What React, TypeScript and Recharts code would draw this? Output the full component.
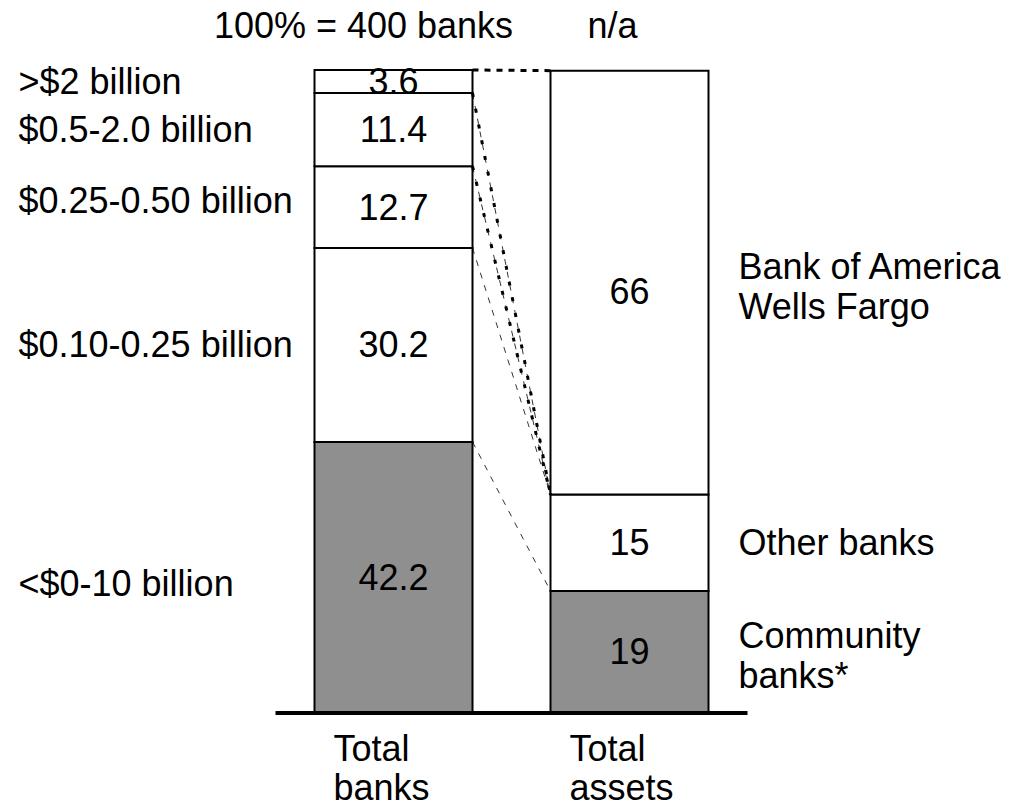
import { BarChart, Bar, XAxis, YAxis, LabelList, ReferenceLine } from 'recharts'

const CATEGORIES = ['Total banks', 'Total assets']
const TOP_LABELS = ['100% = 400 banks', 'n/a']
const SIZE_BANDS = ['<$0-10 billion', '$0.10-0.25 billion', '$0.25-0.50 billion', '$0.5-2.0 billion', '>$2 billion']
const BANK_SHARES = [42.2, 30.2, 12.7, 11.4, 3.6]
const ASSET_GROUPS = [['Community', 'banks*'], ['Other banks'], ['Bank of America', 'Wells Fargo']]
const ASSET_SHARES = [19, 15, 66]

// connectors: [index of bank boundary, index of asset boundary]
const THIN_LINKS = [[3, 1], [2, 1], [1, 1], [0, 0]]
const DOTTED_LINKS = [[4, 2], [3, 1], [2, 1]]

const FONT = 'Liberation Sans, Arial, sans-serif'
const GRAY = '#8f8f8f'
const HALF_BAR = 79
const PITCH = 40

// small nudges so the side labels sit where the original put them
const BAND_NUDGE = [6, 0, -7, 0, 0]
const ASSET_VALUE_NUDGE = [0, 0, 9]
const ASSET_GROUP_NUDGE = [4, 0, 4]

const cumulative = (arr: number[]) => {
  let s = 0
  return arr.map(v => +(s += v).toFixed(2))
}
const bankTops = cumulative(BANK_SHARES)
const assetTops = cumulative(ASSET_SHARES)

const data = [
  Object.fromEntries([['name', CATEGORIES[0]], ...BANK_SHARES.map((v, i) => [`b${i}`, v])]),
  Object.fromEntries([['name', CATEGORIES[1]], ...ASSET_SHARES.map((v, i) => [`a${i}`, v])]),
]

const txt = { fontFamily: FONT, fontSize: 36, fill: '#000' }

const BankLabel = (i: number) => (props: any) => {
  const { x, y, width, height, value } = props
  if (value == null || !height) return null
  const cy = y + height / 2
  return (
    <g>
      <text x={x + width / 2} y={cy} textAnchor="middle" dominantBaseline="central" style={txt}>{value}</text>
      <text x={x - 296} y={cy + BAND_NUDGE[i]} textAnchor="start" dominantBaseline="central" style={txt}>
        {SIZE_BANDS[i]}
      </text>
    </g>
  )
}

const AssetLabel = (i: number) => (props: any) => {
  const { x, y, width, height, value } = props
  if (value == null || !height) return null
  const lines = ASSET_GROUPS[i]
  const cy = y + height / 2
  const start = cy + ASSET_GROUP_NUDGE[i] - ((lines.length - 1) * PITCH) / 2
  return (
    <g>
      <text x={x + width / 2} y={cy + ASSET_VALUE_NUDGE[i]} textAnchor="middle" dominantBaseline="central" style={txt}>
        {value}
      </text>
      {lines.map((l, k) => (
        <text key={k} x={x + width + 30} y={start + k * PITCH} textAnchor="start" dominantBaseline="central" style={txt}>
          {l}
        </text>
      ))}
    </g>
  )
}

const BottomTick = ({ x, y, payload }: any) => {
  const [a, b] = String(payload.value).split(' ')
  return (
    <text x={x - 60} y={y} textAnchor="start" style={txt}>
      <tspan x={x - 60} dy={40}>{a}</tspan>
      <tspan x={x - 60} dy={39}>{b}</tspan>
    </text>
  )
}

const TOP_SHIFT = [-30, -17]
const TopTick = ({ x, y, payload }: any) => (
  <text x={x + TOP_SHIFT[payload.index]} y={y - 24} textAnchor="middle" style={txt}>
    {TOP_LABELS[payload.index]}
  </text>
)

const linkShape = (width: number, dash: string) => (props: any) => {
  const { x1, y1, x2, y2 } = props
  return (
    <line x1={x1 + HALF_BAR} y1={y1} x2={x2 - HALF_BAR} y2={y2}
      stroke="#000" strokeWidth={width} strokeDasharray={dash} />
  )
}

export default function App() {
  return (
    <div style={{ position: 'absolute', left: 0, top: 0, background: '#fff' }}>
      <BarChart
        width={1013}
        height={809}
        data={data}
        margin={{ top: 0, right: 265.5, bottom: 0, left: 275.5 }}
        barCategoryGap={39}
      >
        <XAxis
          dataKey="name"
          height={96}
          axisLine={{ stroke: '#000', strokeWidth: 4 }}
          tickLine={false}
          tick={<BottomTick />}
          interval={0}
        />
        <XAxis
          xAxisId="top"
          orientation="top"
          dataKey="name"
          height={70}
          axisLine={false}
          tickLine={false}
          tick={<TopTick />}
          interval={0}
        />
        <YAxis hide domain={[0, 100]} />
        {THIN_LINKS.map(([b, a], i) => (
          <ReferenceLine
            key={`t${i}`}
            ifOverflow="visible"
            segment={[{ x: CATEGORIES[0], y: bankTops[b] }, { x: CATEGORIES[1], y: assetTops[a] }]}
            shape={linkShape(0.8, '6 7')}
          />
        ))}
        {DOTTED_LINKS.map(([b, a], i) => (
          <ReferenceLine
            key={`d${i}`}
            ifOverflow="visible"
            segment={[{ x: CATEGORIES[0], y: bankTops[b] }, { x: CATEGORIES[1], y: assetTops[a] }]}
            shape={linkShape(3, i === 0 ? '6 6' : '4 12')}
          />
        ))}
        {BANK_SHARES.map((_, i) => (
          <Bar key={`b${i}`} dataKey={`b${i}`} stackId="s" fill={i === 0 ? GRAY : '#fff'}
            stroke="#000" strokeWidth={2} isAnimationActive={false}>
            <LabelList dataKey={`b${i}`} content={BankLabel(i)} />
          </Bar>
        ))}
        {ASSET_SHARES.map((_, i) => (
          <Bar key={`a${i}`} dataKey={`a${i}`} stackId="s" fill={i === 0 ? GRAY : '#fff'}
            stroke="#000" strokeWidth={2} isAnimationActive={false}>
            <LabelList dataKey={`a${i}`} content={AssetLabel(i)} />
          </Bar>
        ))}
      </BarChart>
    </div>
  )
}
